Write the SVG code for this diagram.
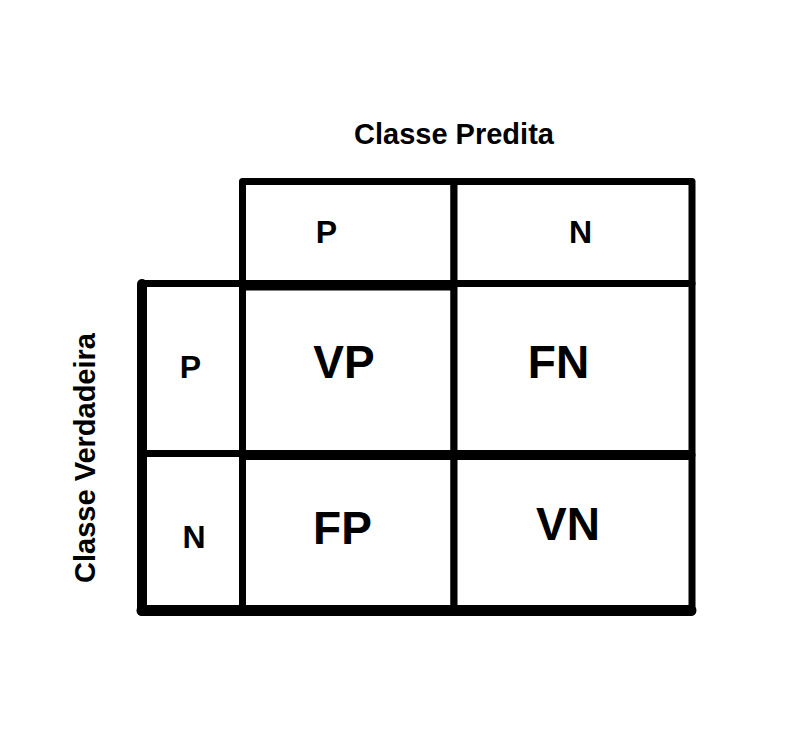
<svg xmlns="http://www.w3.org/2000/svg" width="794" height="756" viewBox="0 0 794 756">
  <style>
    .cell { fill: #ffffff; stroke: #000000; stroke-width: 7; stroke-linejoin: round; }
    .thick { fill: none; stroke: #000000; stroke-linecap: round; }
    text { font-family: "Liberation Sans", Arial, sans-serif; font-weight: bold; fill: #000000; text-anchor: middle; }
    .title { font-size: 29px; }
    .lbl { font-size: 32px; }
    .big { font-size: 46px; }
  </style>
  <rect x="0" y="0" width="794" height="756" fill="#ffffff"/>
  <g id="title-predita"><text class="title" x="454" y="144">Classe Predita</text></g>
  <g id="title-verdadeira"><text class="title" transform="translate(95,458) rotate(-90)" x="0" y="0">Classe Verdadeira</text></g>

  <g id="hdr-P"><rect class="cell" x="242.5" y="181.5" width="211.5" height="102"/><text class="lbl" x="326.5" y="243">P</text></g>
  <g id="hdr-N"><rect class="cell" x="454" y="181.5" width="238" height="102"/><text class="lbl" x="580.5" y="243">N</text></g>

  <g id="row-P"><rect class="cell" x="142" y="283.5" width="100.5" height="170"/><text class="lbl" x="190.5" y="378">P</text></g>
  <g id="row-N"><rect class="cell" x="142" y="453.5" width="100.5" height="157"/><text class="lbl" x="194" y="548">N</text></g>

  <g id="cell-VP"><rect class="cell" x="242.5" y="285" width="211.5" height="170"/><text class="big" x="344" y="378">VP</text></g>
  <g id="cell-FN"><rect class="cell" x="454" y="283.5" width="238" height="171.5"/><text class="big" x="558.5" y="378">FN</text></g>
  <g id="cell-FP"><rect class="cell" x="242.5" y="455" width="211.5" height="155.5"/><text class="big" x="342.5" y="544">FP</text></g>
  <g id="cell-VN"><rect class="cell" x="454" y="455" width="238" height="155.5"/><text class="big" x="568" y="540">VN</text></g>

  <g id="frame">
    <path class="thick" stroke-width="10" d="M142 284 V611"/>
    <path class="thick" stroke-width="11" d="M142 610.5 H691"/>
    <path class="thick" stroke-width="10" d="M245 455 H689"/>
    <path class="thick" stroke-width="10" d="M245 285.5 H451"/>
  </g>
</svg>
